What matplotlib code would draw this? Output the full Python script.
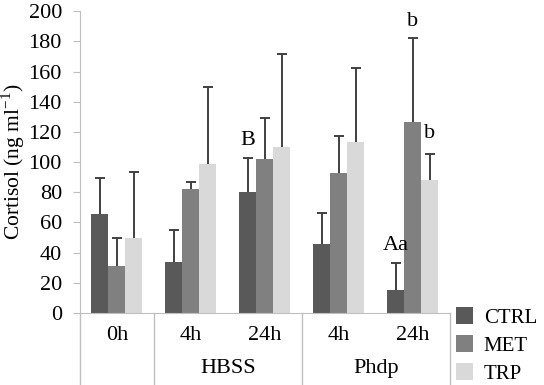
import matplotlib
matplotlib.use('Agg')
import matplotlib.pyplot as plt
import numpy as np

plt.rcParams['font.family'] = ['Liberation Serif', 'DejaVu Serif']
plt.rcParams['mathtext.fontset'] = 'custom'
plt.rcParams['mathtext.rm'] = 'Liberation Serif'

# data
times = ['0h', '4h', '24h', '4h', '24h']
media = ['HBSS', 'Phdp']
series = ['CTRL', 'MET', 'TRP']
ctrl = [65.5, 34, 80, 46, 15]
met = [31, 82, 102, 93, 126.5]
trp = [49.5, 99, 110, 113.5, 88]
ctrl_sd = [24, 21, 23, 20.5, 18]
met_sd = [19, 4.5, 27.5, 24, 55.5]
trp_sd = [44, 51, 61.5, 49, 17.5]
letters = [('B', 0, 2, 114), ('Aa', 0, 4, 45), ('b', 1, 4, 193), ('b', 2, 4, 119)]

colors = ['#595959', '#808080', '#d9d9d9']
axis_gray = '#bfbfbf'
fs = 16

fig = plt.figure(figsize=(5.44, 3.85), dpi=100)
ax = fig.add_axes([0.147, 0.187, 0.68, 0.784])

x = np.arange(len(times))
w = 0.23
means = [ctrl, met, trp]
sds = [ctrl_sd, met_sd, trp_sd]
for i in range(3):
    pos = x + (i - 1) * w
    ax.bar(pos, means[i], w, color=colors[i], label=series[i], zorder=2)
    eb = ax.errorbar(pos, means[i], yerr=[np.zeros(len(times)), sds[i]],
                     fmt='none', ecolor='#404040', elinewidth=1.4,
                     capsize=3.5, capthick=1.4, zorder=3)
    eb[1][0].set_visible(False)

for txt, s, g, yv in letters:
    ax.text(x[g] + (s - 1) * w, yv, txt, ha='center', va='center', fontsize=fs)

ax.set_xlim(-0.5, len(times) - 0.5)
ax.set_ylim(0, 200)
ax.set_yticks(np.arange(0, 201, 20))
ax.tick_params(axis='y', labelsize=fs, length=5, color=axis_gray, pad=8)
ax.set_xticks([])
for side in ['top', 'right']:
    ax.spines[side].set_visible(False)
ax.spines['left'].set_color(axis_gray)
ax.spines['bottom'].set_color(axis_gray)
ax.set_ylabel('Cortisol (ng ml$^{\\mathregular{-1}}$)', fontsize=15.5, labelpad=1)

# two-level category labels
tr = ax.get_xaxis_transform()
for i, t in enumerate(times):
    ax.text(x[i], -0.075, t, transform=tr, ha='center', va='center', fontsize=fs)
ax.text(1.5, -0.185, media[0], transform=tr, ha='center', va='center', fontsize=fs)
ax.text(3.5, -0.185, media[1], transform=tr, ha='center', va='center', fontsize=fs)
for xs in [-0.5, 0.5, 2.5, 4.5]:
    ax.plot([xs, xs], [0, -0.235], transform=tr, color=axis_gray, lw=1, clip_on=False)

ax.legend(loc='lower left', bbox_to_anchor=(0.803, -0.045), bbox_transform=fig.transFigure,
          frameon=False, fontsize=15, handlelength=0.85, handleheight=0.85,
          handletextpad=0.5, labelspacing=0.35)

fig.savefig('out.png', dpi=100)
